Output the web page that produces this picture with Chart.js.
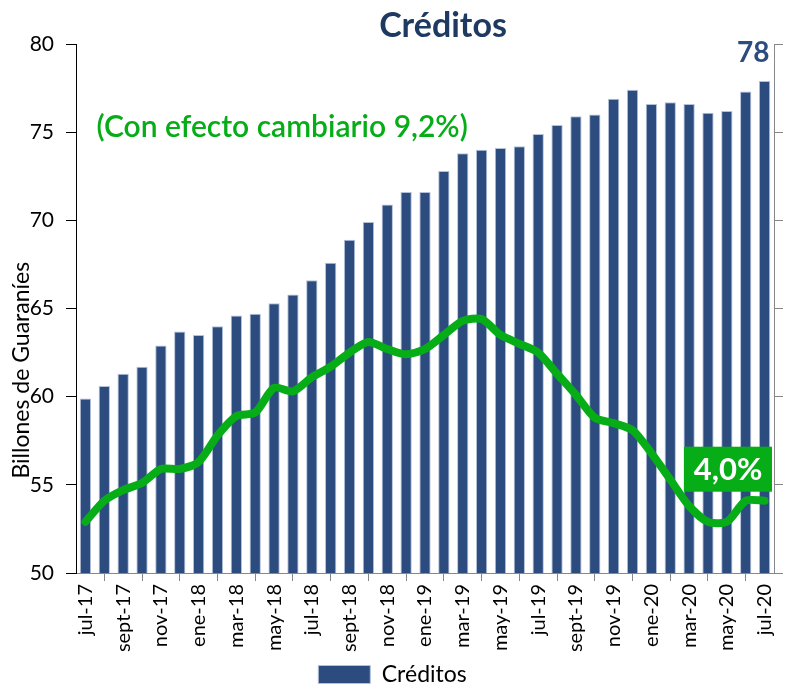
<!DOCTYPE html>
<html>
<head>
<meta charset="utf-8">
<script src="https://cdn.jsdelivr.net/npm/chart.js@4.4.1/dist/chart.umd.min.js"></script>
<style>
  html, body { margin: 0; padding: 0; background: #fff; }
  #wrap { width: 785px; height: 685px; }
</style>
</head>
<body>
<div id="wrap"><canvas id="creditosChart" width="785" height="685"></canvas></div>
<script>
// meses jul-17 .. jul-20
const meses = [
  'jul-17', 'ago-17', 'sept-17', 'oct-17', 'nov-17', 'dic-17',
  'ene-18', 'feb-18', 'mar-18', 'abr-18', 'may-18', 'jun-18',
  'jul-18', 'ago-18', 'sept-18', 'oct-18', 'nov-18', 'dic-18',
  'ene-19', 'feb-19', 'mar-19', 'abr-19', 'may-19', 'jun-19',
  'jul-19', 'ago-19', 'sept-19', 'oct-19', 'nov-19', 'dic-19',
  'ene-20', 'feb-20', 'mar-20', 'abr-20', 'may-20', 'jun-20', 'jul-20'
];

// saldo de créditos (billones de Gs.)
const creditos = [
  59.9, 60.6, 61.3, 61.7, 62.9, 63.7, 63.5, 64.0, 64.6, 64.7, 65.3, 65.8,
  66.6, 67.6, 68.9, 69.9, 70.9, 71.6, 71.6, 72.8, 73.8, 74.0, 74.1, 74.2,
  74.9, 75.4, 75.9, 76.0, 76.9, 77.4, 76.6, 76.7, 76.6, 76.1, 76.2, 77.3, 77.9
];

// variación interanual (escala del eje derecho, oculta)
const variacion = [
  52.9, 54.1, 54.7, 55.1, 55.9, 55.9, 56.3, 57.8, 58.9, 59.1, 60.5, 60.3,
  61.1, 61.7, 62.5, 63.1, 62.7, 62.4, 62.7, 63.5, 64.3, 64.4, 63.5, 63.0,
  62.5, 61.3, 60.1, 58.8, 58.5, 58.1, 56.8, 55.3, 53.8, 52.9, 52.9, 54.1, 54.1
];

const yTicks = [50, 55, 60, 65, 70, 75, 80];

const AZUL = '#2c4c7f';
const VERDE = '#06ad17';
const FUENTE = 'Lato, "Open Sans", sans-serif';

// baja un poco la leyenda, como en el original
const bajarLeyenda = {
  id: 'bajarLeyenda',
  afterLayout(chart) {
    if (chart.legend) {
      chart.legend.top += 11;
      chart.legend.bottom += 11;
    }
  }
};

// textos sobre el gráfico
const textosPlugin = {
  id: 'textos',
  afterDatasetsDraw(chart) {
    const { ctx, chartArea, scales } = chart;
    const x = scales.x;
    const y = scales.y;
    ctx.save();

    // título
    ctx.fillStyle = '#1f3a60';
    ctx.font = 'bold 34px ' + FUENTE;
    ctx.textAlign = 'center';
    ctx.textBaseline = 'alphabetic';
    ctx.fillText('Créditos', (chartArea.left + chartArea.right) / 2 + 18, 37);

    // último valor
    const ult = creditos.length - 1;
    ctx.fillStyle = AZUL;
    ctx.font = 'bold 28px ' + FUENTE;
    ctx.textAlign = 'right';
    ctx.fillText(Math.round(creditos[ult]).toString(), x.getPixelForValue(ult) + 5, 62);

    // nota con efecto cambiario
    ctx.fillStyle = VERDE;
    ctx.font = '600 30px ' + FUENTE;
    ctx.textAlign = 'left';
    ctx.fillText('(Con efecto cambiario 9,2%)', x.getPixelForValue(0) + 11, y.getPixelForValue(74.7));

    // etiqueta 4,0%
    const py = scales.y2.getPixelForValue(variacion[ult]);
    const bw = 88, bh = 45;
    const bx = chartArea.right - 2 - bw;
    const by = py - 9 - bh;
    ctx.fillStyle = VERDE;
    ctx.fillRect(bx, by, bw, bh);
    ctx.fillStyle = '#fff';
    ctx.font = 'bold 31px ' + FUENTE;
    ctx.textAlign = 'center';
    ctx.textBaseline = 'middle';
    ctx.fillText('4,0%', bx + bw / 2, by + bh / 2 + 1);

    // título eje y
    ctx.translate(22, y.getPixelForValue(61.5));
    ctx.rotate(-Math.PI / 2);
    ctx.fillStyle = '#000';
    ctx.font = '23px ' + FUENTE;
    ctx.fillText('Billones de Guaraníes', 0, 0);

    ctx.restore();
  }
};

new Chart(document.getElementById('creditosChart'), {
  data: {
    labels: meses,
    datasets: [
      {
        type: 'line',
        label: 'Variación',
        data: variacion,
        yAxisID: 'y2',
        borderColor: VERDE,
        borderWidth: 8,
        pointRadius: 0,
        tension: 0.25,
        borderJoinStyle: 'round',
        borderCapStyle: 'round',
        order: 0
      },
      {
        type: 'bar',
        label: 'Créditos',
        data: creditos,
        yAxisID: 'y',
        backgroundColor: AZUL,
        borderColor: '#b4c1da',
        borderWidth: 1,
        categoryPercentage: 1,
        barPercentage: 0.6,
        order: 1
      }
    ]
  },
  options: {
    responsive: false,
    animation: false,
    layout: { padding: { top: 44, right: 0, left: 0, bottom: 0 } },
    plugins: {
      title: { display: false },
      tooltip: { enabled: false },
      legend: {
        position: 'bottom',
        labels: {
          filter: (item) => item.text === 'Créditos',
          boxWidth: 52,
          boxHeight: 18,
          padding: 0,
          color: '#000',
          font: { family: FUENTE, size: 23 }
        }
      }
    },
    scales: {
      x: {
        offset: true,
        grid: {
          offset: true,
          drawOnChartArea: false,
          tickLength: 8,
          color: '#888'
        },
        border: { color: '#888' },
        ticks: {
          autoSkip: false,
          minRotation: 90,
          maxRotation: 90,
          color: '#000',
          font: { family: FUENTE, size: 20 },
          callback: function (val, i) {
            return i % 2 === 0 ? this.getLabelForValue(val) : null;
          }
        },
        afterFit: (scale) => {
          scale.height = 79;
          scale.paddingLeft = 0;
          scale.paddingRight = 0;
        }
      },
      y: {
        position: 'left',
        min: yTicks[0],
        max: yTicks[yTicks.length - 1],
        afterBuildTicks: (scale) => { scale.ticks = yTicks.map(v => ({ value: v })); },
        grid: { drawOnChartArea: false, tickLength: 10, color: '#000' },
        border: { color: '#000' },
        ticks: { color: '#000', padding: 12, font: { family: FUENTE, size: 21 } },
        afterFit: (scale) => { scale.width = 76; }
      },
      y2: {
        position: 'right',
        min: yTicks[0],
        max: yTicks[yTicks.length - 1],
        afterBuildTicks: (scale) => { scale.ticks = yTicks.map(v => ({ value: v })); },
        grid: { drawOnChartArea: false, tickLength: 9, color: '#888' },
        border: { color: '#888' },
        ticks: { display: false },
        afterFit: (scale) => { scale.width = 11; }
      }
    }
  },
  plugins: [bajarLeyenda, textosPlugin]
});
</script>
</body>
</html>
